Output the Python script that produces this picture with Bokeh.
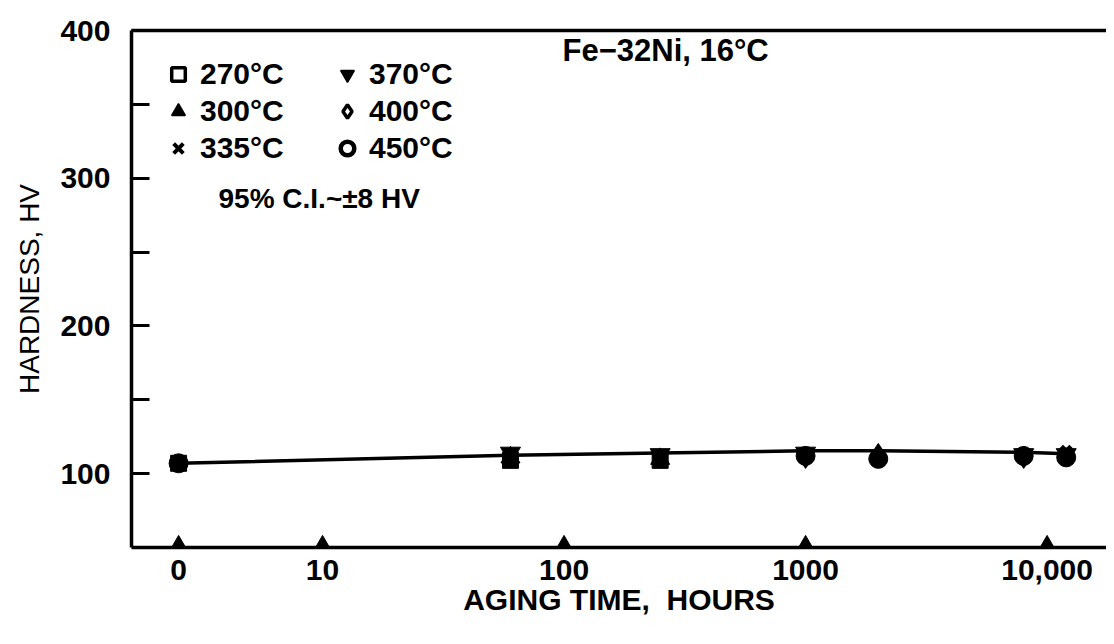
import math
from bokeh.plotting import figure
from bokeh.models import FixedTicker, LinearAxis, Legend, LegendItem, Label, Range1d
from bokeh.embed import file_html
from bokeh.resources import INLINE

# ---------------- data ----------------
h270 = [0, 60, 250]
hv270 = [107, 109, 109]
h300 = [60, 250]
hv300 = [111, 110]
h335 = [60, 250, 12000]
hv335 = [108, 108, 115]
h370 = [60, 250, 1000, 8000, 12000]
hv370 = [114, 113, 114, 113, 113]
h400 = [1000, 2000, 8000]
hv400 = [111, 113, 111]
h450 = [0, 1000, 2000, 8000, 12000]
hv450 = [107, 112, 110, 112, 111]

fit_hours = [0, 60, 250, 1000, 2000, 8000, 12000]
fit_hv = [107, 112.5, 114, 115.5, 115.5, 114.5, 113.5]

tick_hours = [0, 10, 100, 1000, 10000]
tick_labels = ["0", "10", "100", "1000", "10,000"]
y_ticks = [100, 200, 300, 400]
y_minor = [150, 250, 350]

legend_labels = ["270°C", "300°C", "335°C", "370°C", "400°C", "450°C"]

# ---------------- scale helper: log time axis with "0" placed left of 10 h
ZERO_POS = 0.404


def pos(hours):
    return [ZERO_POS if h == 0 else round(math.log10(h), 6) for h in hours]


FONT = "Liberation Sans"
INK = "black"

p = figure(width=1106, height=628, output_backend="svg", toolbar_location=None,
           x_range=Range1d(0.209, 4.246), y_range=Range1d(50, 400),
           min_border_left=131, min_border_right=0, min_border_top=30,
           min_border_bottom=81)
p.outline_line_color = None
p.grid.visible = False
p.background_fill_color = "white"

# y axis
ya = p.yaxis[0]
ya.ticker = FixedTicker(ticks=y_ticks, minor_ticks=y_minor)
ya.axis_line_width = 3.5
ya.axis_line_color = INK
ya.major_tick_in = 18
ya.major_tick_out = 0
ya.minor_tick_in = 18
ya.minor_tick_out = 0
ya.major_tick_line_width = 3
ya.minor_tick_line_width = 3
ya.major_tick_line_color = INK
ya.minor_tick_line_color = INK
ya.major_label_text_font = FONT
ya.major_label_text_font_style = "bold"
ya.major_label_text_font_size = "30px"
ya.major_label_text_color = INK
ya.major_label_standoff = 21
ya.axis_label = "HARDNESS, HV"
ya.axis_label_text_font = FONT
ya.axis_label_text_font_style = "normal"
ya.axis_label_text_font_size = "28px"
ya.axis_label_text_color = INK
ya.axis_label_standoff = 12

# x axis
xa = p.xaxis[0]
tick_pos = pos(tick_hours)
xa.ticker = FixedTicker(ticks=tick_pos, minor_ticks=[])
xa.major_label_overrides = {tp: lab for tp, lab in zip(tick_pos, tick_labels)}
xa.axis_line_width = 3.5
xa.axis_line_color = INK
xa.major_tick_line_color = None
xa.minor_tick_line_color = None
xa.major_tick_in = 0
xa.major_tick_out = 0
xa.major_label_text_font = FONT
xa.major_label_text_font_style = "bold"
xa.major_label_text_font_size = "30px"
xa.major_label_text_color = INK
xa.major_label_standoff = 12
xa.axis_label = "AGING TIME,\u00a0 HOURS"
xa.axis_label_text_font = FONT
xa.axis_label_text_font_style = "bold"
xa.axis_label_text_font_size = "30px"
xa.axis_label_text_color = INK
xa.axis_label_standoff = 0

# top frame line
top = LinearAxis(ticker=FixedTicker(ticks=[]), axis_line_width=3.5, axis_line_color=INK,
                 major_tick_line_color=None, minor_tick_line_color=None,
                 major_tick_out=0, major_tick_in=0, minor_tick_out=0,
                 major_label_text_font_size="0px")
p.add_layout(top, "above")

# triangle tick marks along the time axis
p.scatter(x=tick_pos, y=[p.y_range.start] * len(tick_pos), marker="triangle",
          size=21, fill_color=INK, line_color=INK)

# fitted line
p.line(x=pos(fit_hours), y=fit_hv, line_width=3.5, line_color=INK)

series = [(h270, hv270), (h300, hv300), (h335, hv335),
          (h370, hv370), (h400, hv400), (h450, hv450)]

# data marks (the printed symbols appear as solid blobs)
plot_styles = [
    dict(marker="square", size=16, fill_color=INK, line_color=INK),
    dict(marker="triangle", size=19, fill_color=INK, line_color=INK),
    dict(marker="x", size=14, line_color=INK, line_width=5),
    dict(marker="inverted_triangle", size=20, fill_color=INK, line_color=INK),
    dict(marker="diamond", size=22, fill_color=INK, line_color=INK),
    dict(marker="circle", size=19, fill_color=INK, line_color=INK),
]
for (hh, vv), st in zip(series, plot_styles):
    p.scatter(x=pos(hh), y=vv, **st)

# legend key symbols (hidden renderers over the same data, keyed in the legend)
key_styles = [
    dict(marker="square", fill_color="white", line_color=INK, line_width=3.5),
    dict(marker="triangle", fill_color=INK, line_color=INK, line_width=1.5),
    dict(marker="x", line_color=INK, line_width=4),
    dict(marker="inverted_triangle", fill_color=INK, line_color=INK, line_width=1.5),
    dict(marker="diamond", fill_color="white", line_color=INK, line_width=3.5),
    dict(marker="circle", fill_color="white", line_color=INK, line_width=4.5),
]
key_renderers = []
for (hh, vv), st in zip(series, key_styles):
    r = p.scatter(x=pos(hh), y=vv, **st)
    r.visible = False
    key_renderers.append(r)


def make_legend(labels, renderers, loc):
    return Legend(items=[LegendItem(label=l, renderers=[r]) for l, r in zip(labels, renderers)],
                  location=loc, orientation="vertical", click_policy="none",
                  label_text_font=FONT, label_text_font_style="bold",
                  label_text_font_size="30px", label_text_color=INK,
                  glyph_width=34, glyph_height=34,
                  label_height=34, label_standoff=5, spacing=3, padding=0,
                  margin=0, border_line_color=None, background_fill_alpha=0)


p.add_layout(make_legend(legend_labels[:3], key_renderers[:3], (30, 382)))
p.add_layout(make_legend(legend_labels[3:], key_renderers[3:], (199, 382)))

p.add_layout(Label(x=87, y=349, x_units="screen", y_units="screen",
                   text="95% C.I.~±8 HV", text_font=FONT, text_font_style="bold",
                   text_font_size="28px", text_color=INK, text_baseline="middle"))
p.add_layout(Label(x=431, y=497, x_units="screen", y_units="screen",
                   text="Fe−32Ni, 16°C", text_font=FONT, text_font_style="bold",
                   text_font_size="31px", text_color=INK, text_baseline="middle"))

open("out.html", "w").write(file_html(p, INLINE))
